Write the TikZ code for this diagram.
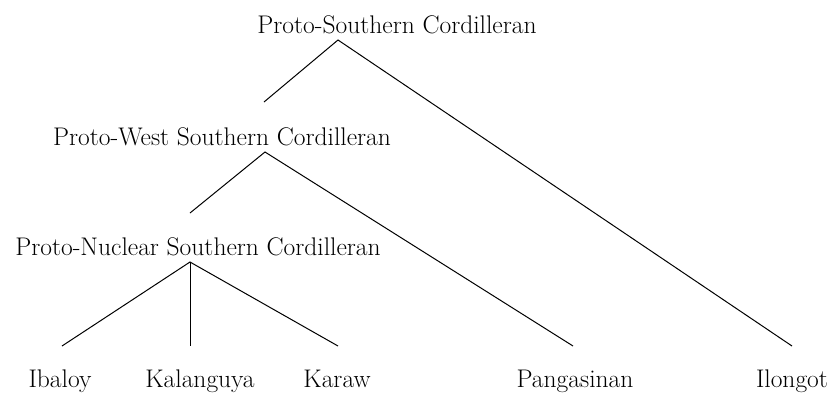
\documentclass[tikz,border=0pt]{standalone}
\usepackage{fontspec}
\begin{document}
\begin{tikzpicture}[x=1pt,y=-1pt,
  lbl/.style={anchor=base,inner sep=0pt,font=\fontsize{25.5}{30}\selectfont},
  br/.style={line width=1pt,black}]
\useasboundingbox (0,0) rectangle (832,392);
\node[lbl] (psc) at (397,33) {Proto-Southern Cordilleran};
\node[lbl] (pwsc) at (222,145) {Proto-West Southern Cordilleran};
\node[lbl] (pnsc) at (198,255) {Proto-Nuclear Southern Cordilleran};
\node[lbl] (iba) at (60,387) {Ibaloy};
\node[lbl] (kal) at (200,387) {Kalanguya};
\node[lbl] (kar) at (337,387) {Karaw};
\node[lbl] (pan) at (575,387) {Pangasinan};
\node[lbl] (ilo) at (792,387) {Ilongot};
\coordinate (a1) at (338,40);
\coordinate (a1l) at (264,102);
\coordinate (a1r) at (792,346);
\coordinate (a2) at (265,152);
\coordinate (a2l) at (190,213);
\coordinate (a2r) at (573,346);
\coordinate (a3) at (190,262);
\coordinate (l1) at (62,346);
\coordinate (l2) at (190,346);
\coordinate (l3) at (338,346);
\draw[br] (a1l) -- (a1) -- (a1r);
\draw[br] (a2l) -- (a2) -- (a2r);
\draw[br] (l1) -- (a3) -- (l3);
\draw[br] (a3) -- (l2);
\end{tikzpicture}
\end{document}
